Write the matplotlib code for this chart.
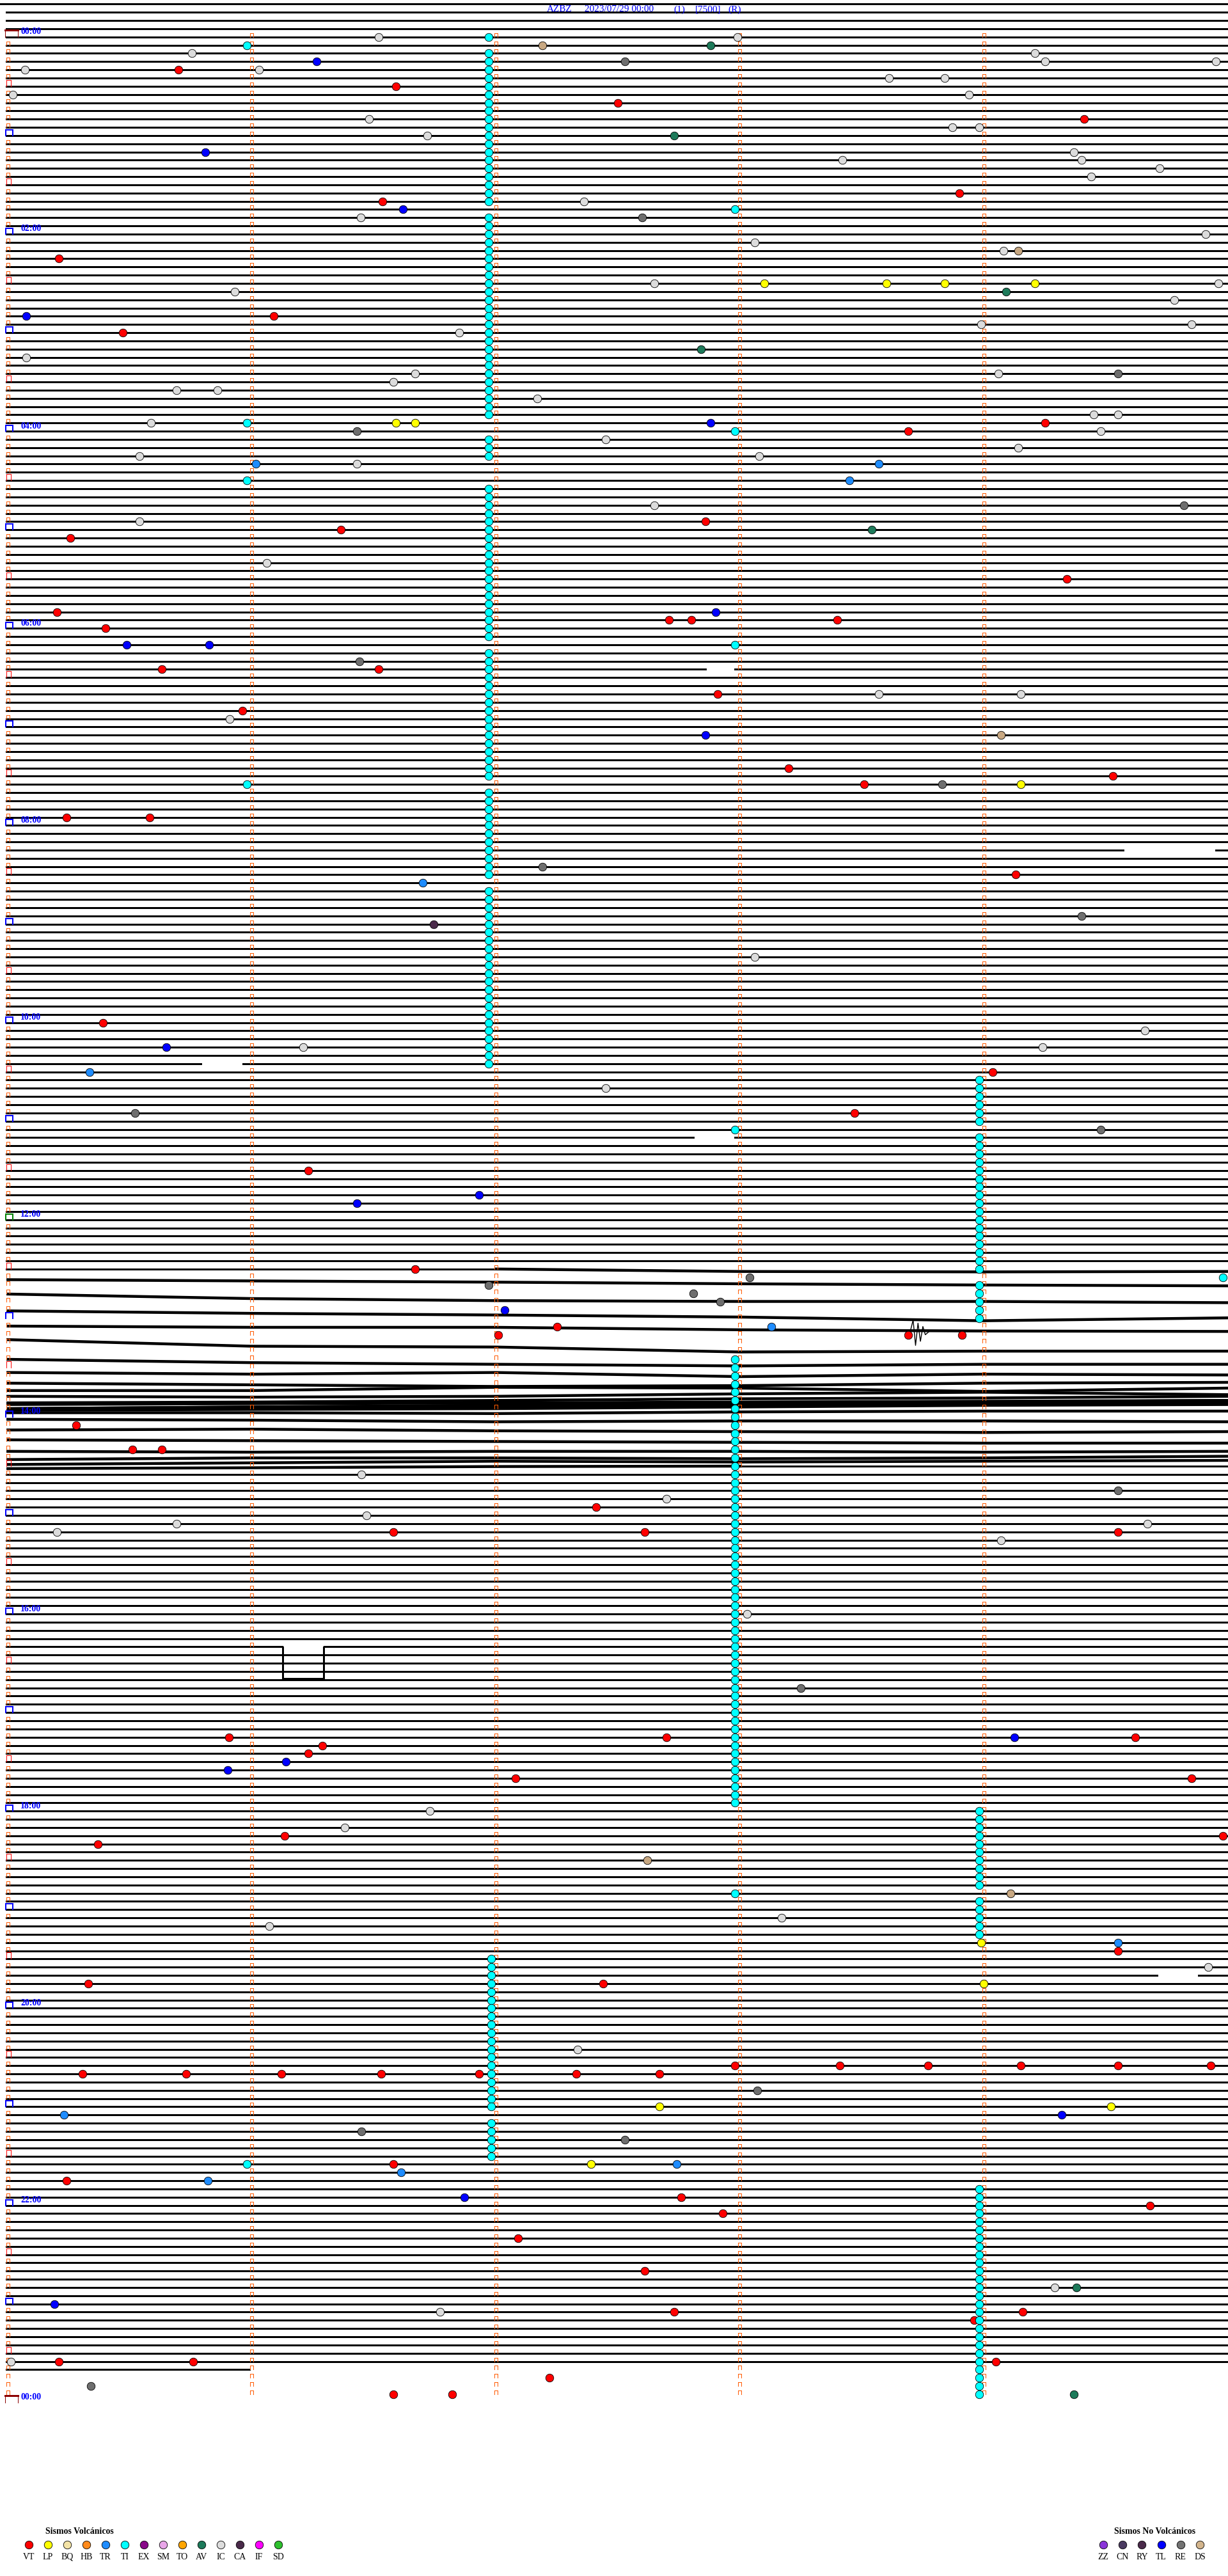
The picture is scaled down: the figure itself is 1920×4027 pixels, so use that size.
import matplotlib
matplotlib.use("Agg")
import matplotlib.pyplot as plt

# page geometry of the helicorder image (pixels)
W_PX, H_PX = 1920, 4027
X0_PX, PX_PER_MIN = 12.3, 381.5     # minute 0 of each row, 5 minutes per row
Y0_PX, PX_PER_ROW = 57.8, 12.84     # row 0 = 00:00, one row per 5 minutes

LAST_ROW, LAST_MIN = 284, 0.99      # data stops at 23:40 + ~1 min

# data gaps: (row, from minute, to minute)
GAPS = [(77, 2.86, 2.98), (99, 4.57, 4.95), (125, 0.79, 0.965),
        (134, 2.81, 2.98), (236, 4.71, 4.88)]
# calibration-like step: (row, from minute, to minute, depth in rows)
STEPS = [(196, 1.126, 1.294, 3.84)]

# noisy traces 12:30 - 14:35, offsets (rows) at minutes 0..5 of each row
TRACE_FIRST_ROW = 150
TRACE_MIN = [0, 1, 2, 3, 4, 5]
TRACE_OFFSETS = [
    [0.0, 0.0, 0.0, 0.30, 0.35, 0.30],
    [0.30, 0.45, 0.60, 0.80, 0.95, 1.05],
    [1.05, 1.60, 1.85, 1.95, 1.95, 2.10],
    [2.10, 2.40, 2.60, 2.85, 3.30, 2.95],
    [2.95, 3.10, 3.10, 3.40, 3.55, 3.60],
    [3.60, 4.40, 4.50, 5.10, 5.00, 5.00],
    [5.00, 5.40, 5.60, 5.80, 5.60, 5.60],
    [5.60, 5.80, 5.60, 6.10, 5.80, 5.90],
    [5.90, 6.10, 6.30, 6.20, 5.90, 5.80],
    [5.80, 5.80, 5.40, 5.50, 5.90, 5.50],
    [5.50, 5.60, 5.50, 5.20, 5.00, 5.30],
    [5.30, 5.20, 5.00, 4.80, 4.70, 4.50],
    [4.50, 4.40, 4.30, 4.20, 4.10, 4.00],
    [4.00, 3.80, 3.60, 3.40, 3.20, 3.00],
    [3.00, 2.80, 2.60, 2.50, 2.30, 2.10],
    [2.10, 1.90, 1.80, 1.60, 1.40, 1.20],
    [1.20, 1.10, 1.00, 0.80, 0.60, 0.50],
    [0.50, 0.50, 0.60, 0.40, 0.30, 0.30],
    [0.30, 0.40, 0.60, 0.50, 0.50, 0.60],
    [0.60, 0.50, 0.70, 0.80, 0.90, 0.80],
    [0.80, 0.90, 1.00, 1.10, 1.20, 1.20],
    [1.20, 1.30, 1.20, 1.20, 1.30, 1.20],
    [1.20, 1.00, 1.00, 1.10, 1.00, 0.80],
    [0.80, 0.60, 0.40, 0.50, 0.40, 0.30],
    [0.30, 0.20, 0.05, 0.0, 0.0, 0.0],
]
TRACE_SPAN = {150: (2, 5), 174: (0, 3)}
BURST_ROW = 154
BURST_MIN = [3.70, 3.71, 3.72, 3.73, 3.74, 3.75, 3.76, 3.78]
BURST_OFF = [3.4, 2.2, 5.3, 2.6, 4.8, 3.0, 4.0, 3.5]

# classified events: (row, minute within row)
VT = [(4, 0.70), (6, 1.59), (8, 2.50), (10, 4.41), (19, 3.90), (20, 1.535), (27, 0.21),
      (34, 1.09), (36, 0.47), (47, 4.25), (48, 3.69), (59, 2.86), (60, 1.365), (61, 0.255),
      (66, 4.34), (70, 0.20), (71, 2.71), (71, 2.80), (71, 3.40), (72, 0.40), (77, 0.63),
      (77, 1.52), (80, 2.91), (82, 0.96), (89, 3.20), (90, 4.53), (91, 3.51), (95, 0.24),
      (95, 0.58), (102, 4.13), (120, 0.39), (126, 4.035), (131, 3.47), (138, 1.23),
      (150, 1.67), (157, 2.25), (158, 2.01), (158, 3.69), (158, 3.91), (169, 0.28),
      (172, 0.51), (172, 0.63), (179, 2.41), (182, 1.58), (182, 2.61), (182, 4.55),
      (207, 0.906), (207, 2.70), (207, 4.62), (208, 1.29), (209, 1.23), (212, 2.08),
      (212, 4.85), (219, 1.135), (219, 4.98), (220, 0.37), (233, 4.55), (237, 0.33),
      (237, 2.44), (247, 2.98), (247, 3.41), (247, 3.77), (247, 4.15), (247, 4.55),
      (247, 4.93), (248, 0.306), (248, 0.73), (248, 1.12), (248, 1.53), (248, 1.93),
      (248, 2.33), (248, 2.67), (259, 1.58), (261, 0.24), (263, 2.76), (264, 4.68),
      (265, 2.93), (268, 2.09), (272, 2.61), (277, 2.73), (277, 4.16), (278, 3.96),
      (283, 0.21), (283, 0.76), (283, 4.05), (285, 2.22), (287, 1.58), (287, 1.82)]
IC = [(0, 1.52), (0, 2.99), (2, 0.755), (2, 4.21), (3, 4.25), (3, 4.95), (4, 0.07), (4, 1.03),
      (5, 3.61), (5, 3.84), (7, 0.02), (7, 3.94), (10, 1.48), (11, 3.87), (11, 3.98),
      (12, 1.72), (14, 4.37), (15, 3.42), (15, 4.40), (16, 4.72), (17, 4.44), (20, 2.36),
      (22, 1.445), (24, 4.91), (25, 3.06), (26, 4.08), (30, 2.65), (30, 4.96), (31, 0.93),
      (32, 4.78), (35, 3.99), (35, 4.85), (36, 1.85), (39, 0.074), (41, 1.67), (41, 4.06),
      (42, 1.58), (43, 0.69), (43, 0.86), (44, 2.17), (46, 4.45), (46, 4.55), (47, 0.587),
      (48, 4.48), (49, 2.45), (50, 4.14), (51, 0.54), (51, 3.08), (52, 1.43), (57, 2.65),
      (59, 0.54), (64, 1.06), (80, 3.57), (80, 4.15), (83, 0.91), (112, 3.06), (121, 4.66),
      (123, 1.21), (123, 4.24), (128, 2.45), (175, 1.45), (178, 2.70), (180, 1.47),
      (181, 0.69), (181, 4.67), (182, 0.20), (183, 4.07), (192, 3.03), (216, 1.73),
      (218, 1.38), (229, 3.17), (230, 1.07), (235, 4.92), (245, 2.335), (274, 4.29),
      (277, 1.77), (283, 0.013)]
TL = [(3, 1.265), (14, 0.81), (21, 1.62), (34, 0.074), (47, 2.88), (70, 2.90), (74, 0.487),
      (74, 0.826), (85, 2.86), (123, 0.65), (141, 1.93), (142, 1.43), (155, 2.035),
      (207, 4.125), (210, 1.14), (211, 0.90), (253, 4.32), (263, 1.87), (276, 0.19)]
RE = [(3, 2.53), (22, 2.60), (41, 4.55), (48, 1.43), (57, 4.82), (76, 1.44), (91, 3.83),
      (101, 2.19), (107, 4.40), (131, 0.52), (133, 4.48), (151, 3.04), (152, 1.97),
      (153, 2.81), (154, 2.92), (177, 4.55), (201, 3.25), (250, 3.07), (255, 1.45),
      (256, 2.53), (286, 0.34)]
DS = [(1, 2.19), (26, 4.14), (85, 4.07), (222, 2.62), (226, 4.11)]
AV = [(1, 2.88), (12, 2.73), (31, 4.09), (38, 2.84), (60, 3.54), (274, 4.38), (287, 4.37)]
TR = [(52, 1.016), (52, 3.57), (54, 3.45), (103, 1.70), (126, 0.335), (157, 3.13),
      (232, 4.55), (253, 0.23), (259, 2.74), (260, 1.61), (261, 0.82)]
LP = [(30, 3.10), (30, 3.60), (30, 3.84), (30, 4.21), (47, 1.59), (47, 1.67), (91, 4.15),
      (232, 3.99), (237, 4.00), (252, 2.67), (252, 4.52), (259, 2.39)]
CA = [(108, 1.745)]
# tremor (TI) picks: (first row, last row, minute)
TI_RUNS = [(0, 0, 1.97), (1, 1, 0.98), (2, 20, 1.97), (21, 21, 2.98), (22, 46, 1.97),
           (47, 47, 0.98), (48, 48, 2.98), (49, 51, 1.97), (54, 54, 0.98), (55, 73, 1.97),
           (74, 74, 2.98), (75, 90, 1.97), (91, 91, 0.98), (92, 102, 1.97), (104, 125, 1.97),
           (127, 132, 3.98), (133, 133, 2.98), (134, 150, 3.98), (151, 151, 4.98),
           (152, 156, 3.98), (161, 215, 2.98), (216, 225, 3.98), (226, 226, 2.98),
           (227, 231, 3.98), (234, 252, 1.98), (254, 258, 1.98), (259, 259, 0.98),
           (262, 287, 3.98)]
TI = [(r, m) for a, b, m in TI_RUNS for r in range(a, b + 1)]

VOLC_CODES = ["VT", "LP", "BQ", "HB", "TR", "TI", "EX", "SM", "TO", "AV", "IC", "CA", "IF", "SD"]
VOLC_COLORS = ["#ff0000", "#ffff00", "#f3e3a6", "#ff8a1c", "#1e8cff", "#00ffff", "#8a0a8a",
               "#e8a6e8", "#ffa500", "#1d7a5a", "#dcdcdc", "#4a2a4a", "#ff00ff", "#2ec02e"]
NONVOLC_CODES = ["ZZ", "CN", "RY", "TL", "RE", "DS"]
NONVOLC_COLORS = ["#8a35d8", "#4a3a60", "#4a2a4a", "#0000ff", "#737373", "#d2b48c"]

TITLE_PARTS = [("AZBZ", 855), ("2023/07/29 00:00", 914), ("(1)", 1053), ("[7500]", 1087), ("(R)", 1138)]

BLUE = "#0000ff"
TICK = "#ff5a00"
PX = 0.72  # one pixel in points

fig = plt.figure(figsize=(W_PX / 100, H_PX / 100), dpi=100)
ax = fig.add_axes([0, 0, 1, 1])
ax.set_xlim(-X0_PX / PX_PER_MIN, (W_PX - X0_PX) / PX_PER_MIN)
ax.set_ylim((H_PX - Y0_PX) / PX_PER_ROW, -Y0_PX / PX_PER_ROW)
ax.axis("off")

px_x = 1.0 / PX_PER_MIN
px_y = 1.0 / PX_PER_ROW
BASE = dict(color="black", lw=1.3 * PX, antialiased=False)

# top border + empty header rows
ax.plot([ax.get_xlim()[0], 5.01], [-4, -4], **BASE)
for r in range(-3, 0):
    ax.plot([-0.006, 5.01], [r, r], **BASE)

noisy_rows = set(range(TRACE_FIRST_ROW, TRACE_FIRST_ROW + len(TRACE_OFFSETS)))
step_rows = {s[0]: s for s in STEPS}
for r in range(0, LAST_ROW + 1):
    if r in noisy_rows:
        continue
    end = LAST_MIN if r == LAST_ROW else 5.01
    if r in step_rows:
        _, a, b, d = step_rows[r]
        ax.plot([-0.006, a, a, b, b, end], [r, r, r + d, r + d, r, r], **BASE)
        ax.plot([a, b], [r + d, r + d], color="black", lw=2 * PX, antialiased=False)
        continue
    cuts = sorted((g[1], g[2]) for g in GAPS if g[0] == r)
    start = -0.006
    for a, b in cuts:
        ax.plot([start, a], [r, r], **BASE)
        start = b
    ax.plot([start, end], [r, r], **BASE)

# noisy traces
for i, offs in enumerate(TRACE_OFFSETS):
    r = TRACE_FIRST_ROW + i
    lo, hi = TRACE_SPAN.get(r, (0, 5))
    xs = [m for m in TRACE_MIN if lo <= m <= hi]
    ys = [r + o for m, o in zip(TRACE_MIN, offs) if lo <= m <= hi]
    ax.plot(xs, ys, color="black", lw=3.2, solid_joinstyle="round")
    if lo > 0:
        ax.plot([-0.006, lo], [r, r], **BASE)
    if hi < 5:
        ax.plot([hi, 5.01], [r, r], **BASE)
ax.plot(BURST_MIN, [BURST_ROW + o for o in BURST_OFF], color="black", lw=1.0)


def bracket(x_left, width_px, height_px, row, color, lw, top_lw=None):
    x1 = x_left + width_px * px_x
    y0 = row - height_px * px_y
    ax.plot([x_left, x_left, x1, x1], [row, y0, y0, row], color=color, lw=lw,
            antialiased=False)
    if top_lw:
        ax.plot([x_left, x1], [y0, y0], color=color, lw=top_lw, antialiased=False)


# minute / hour marks
for r in range(0, 289):
    if r % 288 == 0:
        bracket(-4 * px_x, 20, 11, r, "#8b0000", PX, top_lw=3 * PX)
    elif r == 144:
        bracket(-3.5 * px_x, 11, 9, r, "#008000", 2 * PX)
    elif r % 12 == 0:
        bracket(-3.5 * px_x, 11, 9, r, BLUE, 2 * PX)
    elif r % 12 == 6:
        bracket(-2.5 * px_x, 7, 10, r, "#ff0000", PX)
    else:
        bracket(-2.5 * px_x, 5, 6, r, TICK, PX)
    if r < 288:
        for m in range(1, 5):
            bracket(m - 2.5 * px_x, 5, 6, r, TICK, PX)
    if r % 24 == 0:
        ax.text(20 * px_x, r - 1.5 * px_y, f"{(r // 12) % 24:02d}:00", color=BLUE,
                fontsize=10, fontweight="bold", family="Liberation Serif",
                ha="left", va="bottom")

# title
for txt, xpx in TITLE_PARTS:
    ax.text((xpx - X0_PX) * px_x, -4 + 12 * px_y, txt, color=BLUE, fontsize=11,
            family="Liberation Serif", ha="left", va="baseline")

# events
EVENT_STYLE = [(IC, "#dcdcdc"), (RE, "#6e6e6e"), (DS, "#c8a882"), (AV, "#1d7a5a"),
               (TR, "#1e8cff"), (LP, "#ffff00"), (CA, "#4a2a4a"), (TL, "#0000ff"),
               (VT, "#ff0000"), (TI, "#00ffff")]
for evs, col in EVENT_STYLE:
    ax.plot([m for r, m in evs], [r for r, m in evs], ls="none", marker="o", ms=9,
            mfc=col, mec="black", mew=0.6, zorder=5)

# legend strip at the bottom
lax = fig.add_axes([0, 0, 1, 100 / H_PX])
lax.set_xlim(0, W_PX)
lax.set_ylim(100, 0)
lax.axis("off")
lax.text(124, 30, "Sismos Volcánicos", ha="center", va="center", fontsize=10,
         fontweight="bold", family="Liberation Serif")
for i, (code, col) in enumerate(zip(VOLC_CODES, VOLC_COLORS)):
    lax.plot(45 + 30 * i, 51, ls="none", marker="o", ms=9, mfc=col, mec="black", mew=0.6)
    lax.text(45 + 30 * i, 70, code, ha="center", va="center", fontsize=10,
             family="Liberation Serif")
lax.text(1806, 30, "Sismos No Volcánicos", ha="center", va="center", fontsize=10,
         fontweight="bold", family="Liberation Serif")
for i, (code, col) in enumerate(zip(NONVOLC_CODES, NONVOLC_COLORS)):
    lax.plot(1725 + 30.2 * i, 51, ls="none", marker="o", ms=9, mfc=col, mec="black", mew=0.6)
    lax.text(1725 + 30.2 * i, 70, code, ha="center", va="center", fontsize=10,
             family="Liberation Serif")

fig.savefig("out.png", dpi=100, facecolor="white")
